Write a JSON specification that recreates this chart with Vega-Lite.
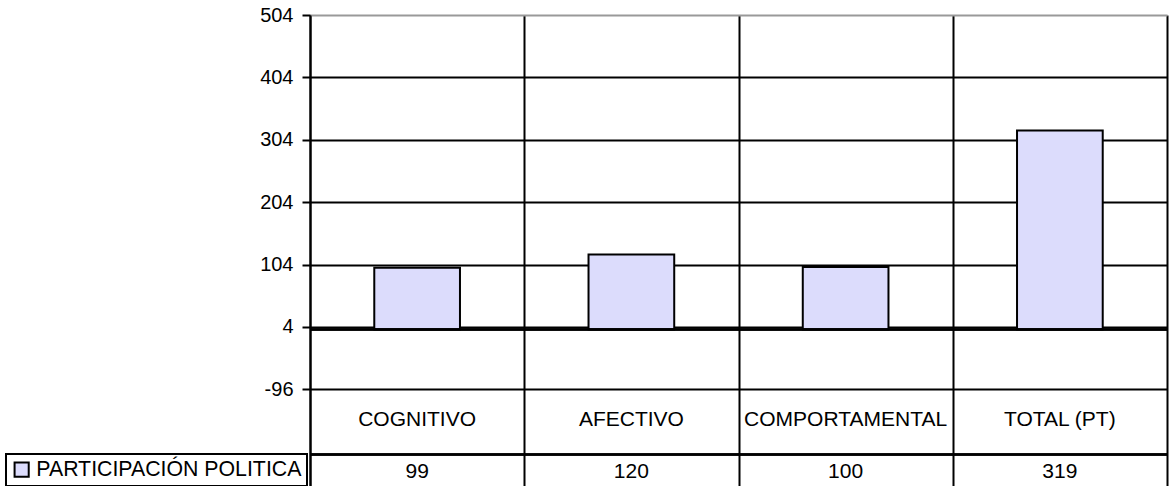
{
  "$schema": "https://vega.github.io/schema/vega-lite/v6.json",
  "width": 857,
  "height": 471,
  "autosize": {"type": "none"},
  "padding": {"left": 310, "top": 15, "right": 4, "bottom": 0},
  "background": "white",
  "config": {
    "view": {"stroke": null},
    "font": "Liberation Sans",
    "legend": {"strokeColor": "black", "strokeWidth": 2}
  },
  "data": {
    "values": [
      {"categoria": "COGNITIVO", "serie": "PARTICIPACIÓN POLITICA", "valor": 99},
      {"categoria": "AFECTIVO", "serie": "PARTICIPACIÓN POLITICA", "valor": 120},
      {"categoria": "COMPORTAMENTAL", "serie": "PARTICIPACIÓN POLITICA", "valor": 100},
      {"categoria": "TOTAL (PT)", "serie": "PARTICIPACIÓN POLITICA", "valor": 319}
    ]
  },
  "encoding": {
    "x": {
      "field": "categoria",
      "type": "nominal",
      "sort": null,
      "scale": {"paddingInner": 0, "paddingOuter": 0},
      "axis": {
        "title": null,
        "labels": false,
        "ticks": false,
        "domain": false,
        "grid": true,
        "tickBand": "extent",
        "gridColor": "black",
        "gridWidth": 2
      }
    }
  },
  "layer": [
    {
      "mark": {"type": "bar", "stroke": "black", "strokeWidth": 2, "width": {"band": 0.4}},
      "encoding": {
        "y": {
          "field": "valor",
          "type": "quantitative",
          "scale": {"domain": [-251, 504], "nice": false, "zero": false},
          "axis": {
            "title": null,
            "values": [-96, 4, 104, 204, 304, 404, 504],
            "labelExpr": "'' + datum.value",
            "grid": true,
            "gridColor": {"condition": {"test": "datum.value === 504", "value": "#999999"}, "value": "black"},
            "gridWidth": 2,
            "domainColor": "black",
            "domainWidth": 2,
            "tickColor": "black",
            "tickWidth": 2,
            "tickSize": 8,
            "labelFontSize": 20,
            "labelColor": "black",
            "labelPadding": 9,
            "labelFont": "Liberation Sans"
          }
        },
        "y2": {"datum": 0},
        "fill": {
          "field": "serie",
          "type": "nominal",
          "scale": {"range": ["#DCDCFC"]},
          "legend": {
            "title": null,
            "orient": "none",
            "legendX": -304,
            "legendY": 439,
            "symbolType": "square",
            "symbolSize": 200,
            "symbolStrokeColor": "black",
            "symbolStrokeWidth": 2,
            "symbolFillColor": "#DCDCFC",
            "labelFontSize": 21.3,
            "labelFont": "Liberation Sans",
            "labelColor": "black",
            "labelOffset": 4,
            "labelLimit": 400,
            "padding": 5
          }
        }
      }
    },
    {
      "mark": {"type": "rule", "color": "black", "strokeWidth": 2},
      "encoding": {"y": {"datum": 0}, "x": {"value": 0}, "x2": {"value": 857}}
    },
    {
      "mark": {"type": "rule", "color": "black", "strokeWidth": 2},
      "encoding": {"y": {"datum": -200.5}, "x": {"value": 0}, "x2": {"value": 857}}
    },
    {
      "mark": {"type": "text", "fontSize": 21, "font": "Liberation Sans", "color": "black", "baseline": "middle"},
      "encoding": {"text": {"field": "categoria"}, "y": {"datum": -146}}
    },
    {
      "mark": {"type": "text", "fontSize": 21, "font": "Liberation Sans", "color": "black", "baseline": "middle"},
      "encoding": {"text": {"field": "valor", "type": "quantitative"}, "y": {"datum": -228}}
    }
  ]
}
